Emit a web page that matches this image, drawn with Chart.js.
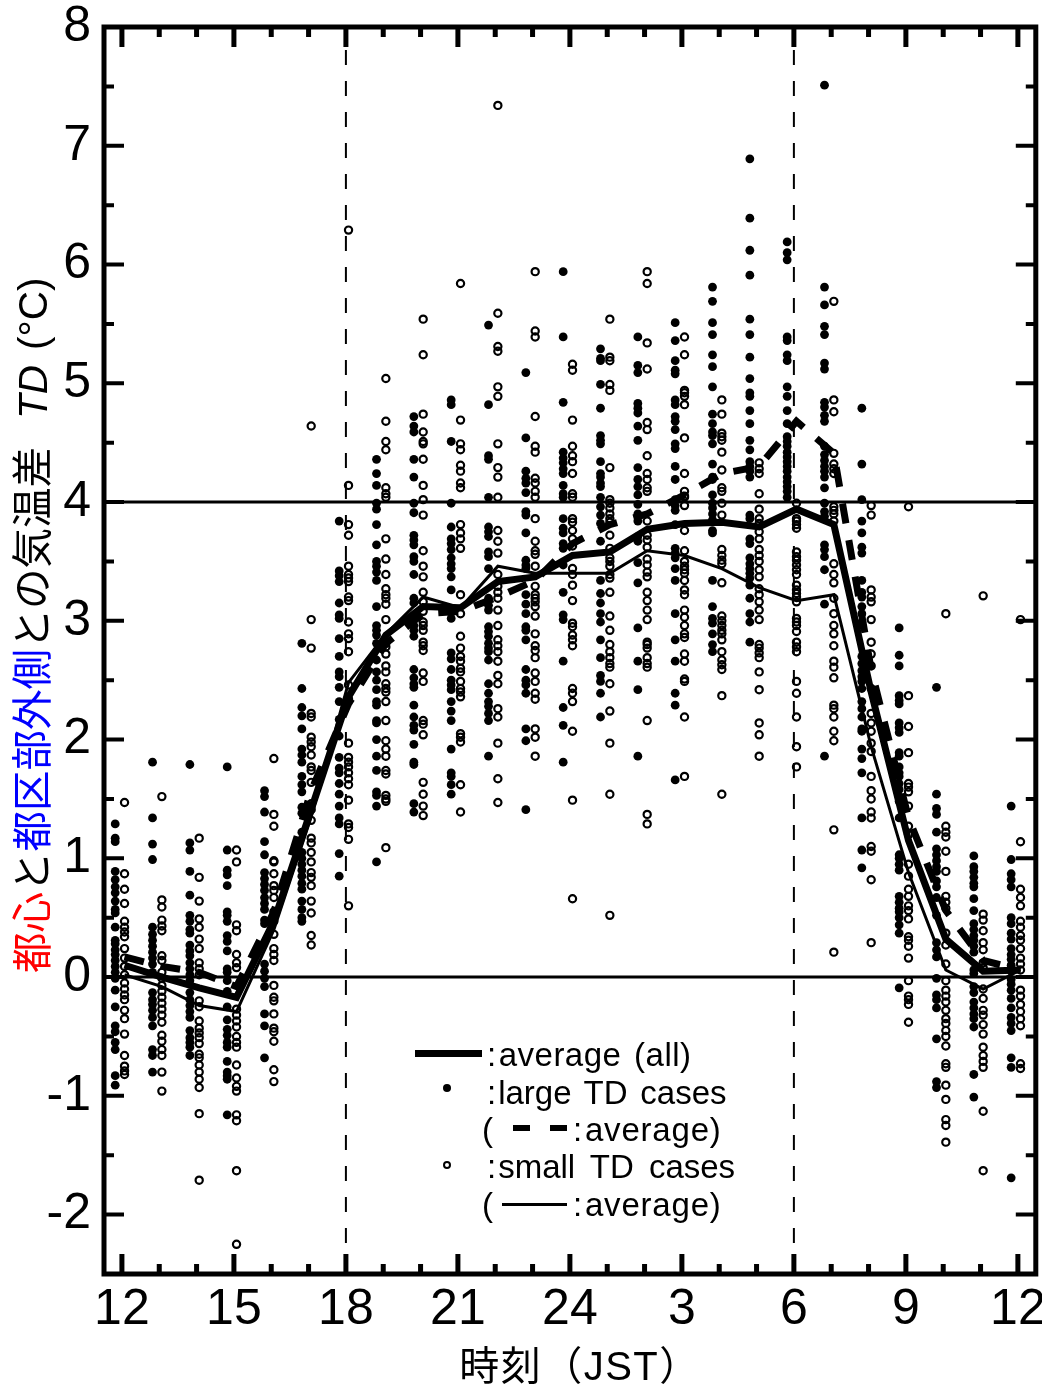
<!DOCTYPE html>
<html>
<head>
<meta charset="utf-8">
<script src="https://cdn.jsdelivr.net/npm/chart.js@4"></script>
<style>
  html, body { margin:0; padding:0; background:#fff; }
  #wrap { position:relative; width:1042px; height:1387px; overflow:hidden; font-family:"Liberation Sans", sans-serif; color:#000; }
  #yTitle { position:absolute; left:33px; top:973px; transform-origin:0 0; transform:rotate(-90deg) translateY(-50%); white-space:nowrap; font-size:40.5px; line-height:44px; font-family:"Liberation Sans","Noto Sans CJK JP",sans-serif; }
  #yTitle i { margin-left:28px; }
  #yTitle b { font-weight:normal; margin-left:15px; }
  #xTitle { position:absolute; left:380px; width:400px; top:1344px; text-align:center; white-space:nowrap; font-size:40px; line-height:44px; letter-spacing:1.5px; font-family:"Liberation Sans","Noto Sans CJK JP",sans-serif; }
  .lg { position:absolute; font-size:33px; line-height:38px; white-space:pre; }
  .lg span { margin-right:2px; }
  .mk { position:absolute; background:#000; }
  .dot { position:absolute; border-radius:50%; box-sizing:border-box; }
</style>
</head>
<body>
<div id="wrap">
  <canvas id="tdChart" width="1042" height="1387"></canvas>
  <div id="yTitle"><span style="color:#f00">都心</span>と<span style="color:#00f">都区部外側</span>との気温差<i>TD</i><b>(°C)</b></div>
  <div id="xTitle">時刻（JST）</div>

  <div class="mk" style="left:415px;top:1050px;width:67px;height:7px"></div>
  <div class="lg" style="left:487px;top:1036px;letter-spacing:.5px;word-spacing:3px"><span>:</span>average (all)</div>
  <div class="dot" style="left:443px;top:1084px;width:8px;height:8px;background:#000"></div>
  <div class="lg" style="left:487px;top:1074px;word-spacing:3.5px"><span>:</span>large TD cases</div>
  <div class="lg" style="left:482px;top:1111px">(</div>
  <div class="mk" style="left:513px;top:1125px;width:17px;height:6px"></div>
  <div class="mk" style="left:550px;top:1125px;width:17px;height:6px"></div>
  <div class="lg" style="left:573px;top:1111px;letter-spacing:.8px"><span>:</span>average)</div>
  <div class="dot" style="left:443px;top:1161px;width:8px;height:8px;border:2px solid #000"></div>
  <div class="lg" style="left:487px;top:1148px;word-spacing:6px"><span>:</span>small TD cases</div>
  <div class="lg" style="left:482px;top:1186px">(</div>
  <div class="mk" style="left:502px;top:1203px;width:65px;height:3px"></div>
  <div class="lg" style="left:573px;top:1186px;letter-spacing:.8px"><span>:</span>average)</div>
</div>

<script>
// hour labels, index 0 = 12 JST ... index 24 = 12 JST next day
const tickIndex = [0,3,6,9,12,15,18,21,24];
const tickLabels = ["12","15","18","21","24","3","6","9","12"];
const yLabels = [-2,-1,0,1,2,3,4,5,6,7,8];
const yMinor = [-2.5,-1.5,-0.5,0.5,1.5,2.5,3.5,4.5,5.5,6.5,7.5];
const dashedHours = [6,18];
const refLevels = [0,4];

// mean lines, one value per hour
const avgAll   = [0.10,0.00,-0.09,-0.17,0.47,1.41,2.36,2.88,3.12,3.11,3.33,3.37,3.55,3.58,3.77,3.82,3.83,3.79,3.94,3.81,2.40,1.15,0.32,0.05,0.06];
const avgLarge = [0.17,0.09,0.04,-0.08,0.55,1.57,2.30,2.81,3.06,3.08,3.20,3.34,3.65,3.81,3.90,4.06,4.24,4.30,4.68,4.41,2.59,1.34,0.56,0.14,0.06];
const avgSmall = [0.02,-0.08,-0.24,-0.29,0.40,1.35,2.48,2.89,3.20,3.11,3.46,3.40,3.40,3.40,3.59,3.55,3.44,3.28,3.17,3.22,1.94,0.88,0.06,-0.10,0.06];

// individual cases per hour, large TD days
const largeCases = [
  [1.29,1.17,1.14,0.89,0.82,0.76,0.71,0.64,0.57,0.54,0.42,0.31,0.28,0.23,0.19,0.14,0.09,0.04,-0.01,-0.11,-0.25,-0.41,-0.46,-0.55,-0.61,-0.83,-0.91],
  [1.81,1.34,1.12,0.99,0.42,0.36,0.31,0.26,0.21,0.16,0.11,0.04,-0.13,-0.19,-0.23,-0.28,-0.34,-0.41,-0.61,-0.66,-0.80],
  [1.79,1.13,1.07,0.89,0.69,0.52,0.47,0.40,0.37,0.27,0.22,0.18,0.12,0.07,0.02,-0.03,-0.13,-0.19,-0.24,-0.29,-0.34,-0.45,-0.51,-0.55,-0.59,-0.66],
  [1.77,1.07,0.90,0.86,0.77,0.55,0.52,0.47,0.35,0.30,0.22,0.07,0.04,-0.03,-0.12,-0.25,-0.36,-0.44,-0.49,-0.55,-0.59,-0.71,-0.80,-0.83,-0.86,-1.16],
  [1.57,1.52,1.39,1.14,1.03,0.88,0.83,0.78,0.73,0.67,0.62,0.57,0.48,0.45,0.11,0.05,-0.01,-0.08,-0.31,-0.41,-0.68],
  [2.81,2.43,2.27,2.20,2.09,1.92,1.87,1.81,1.69,1.62,1.56,1.43,1.38,1.22,1.05,1.00,0.95,0.90,0.85,0.79,0.74,0.64,0.57,0.50,0.47],
  [3.84,3.42,3.38,3.33,3.15,3.05,3.02,2.85,2.70,2.57,2.53,2.44,2.32,2.17,2.03,1.85,1.76,1.72,1.63,1.54,1.44,1.34,1.29,1.04,0.85],
  [4.36,4.24,4.14,3.99,3.94,3.81,3.64,3.50,3.46,3.41,3.34,3.12,2.96,2.92,2.88,2.81,2.67,2.57,2.50,2.42,2.32,2.29,2.16,2.14,2.00,1.86,1.74,1.56,1.53,1.44,0.97],
  [4.72,4.64,4.59,4.36,4.21,3.99,3.91,3.72,3.68,3.64,3.54,3.50,3.39,3.19,3.15,2.96,2.92,2.87,2.59,2.52,2.47,2.44,2.29,2.19,2.12,2.08,1.96,1.81,1.79,1.46,1.39],
  [4.86,4.82,4.51,3.99,3.79,3.69,3.65,3.60,3.53,3.48,3.44,3.37,3.26,3.02,2.73,2.68,2.59,2.50,2.46,2.42,2.32,2.24,2.16,1.92,1.72,1.69,1.62,1.54],
  [5.49,4.82,4.39,4.36,4.04,3.79,3.75,3.71,3.58,3.54,3.44,3.19,3.13,3.09,2.95,2.91,2.87,2.81,2.77,2.74,2.67,2.47,2.39,2.32,2.28,2.22,2.16,1.86],
  [5.09,4.54,4.26,4.20,4.16,4.08,3.92,3.89,3.74,3.51,3.47,3.44,3.22,3.14,3.06,2.95,2.92,2.84,2.59,2.50,2.46,2.39,2.09,1.99,1.41],
  [5.94,5.39,4.84,4.42,4.37,4.33,4.28,4.24,4.14,4.07,4.04,3.86,3.78,3.74,3.65,3.61,3.47,3.24,3.05,3.01,2.66,2.27,2.12,1.81],
  [5.29,5.21,5.19,4.99,4.79,4.56,4.52,4.49,4.34,4.24,4.21,4.16,4.13,4.04,3.96,3.89,3.82,3.67,3.34,3.23,3.15,3.06,2.99,2.84,2.69,2.54,2.49,2.39,2.19],
  [5.39,5.15,5.09,4.83,4.79,4.75,4.64,4.52,4.29,4.19,4.13,4.06,3.98,3.90,3.84,3.71,3.67,3.49,3.32,2.94,2.66,2.42,1.86],
  [5.51,5.36,5.19,5.11,5.08,4.86,4.82,4.72,4.68,4.61,4.49,4.45,4.30,4.19,4.02,3.97,3.93,3.81,3.61,3.57,3.53,3.44,3.34,3.06,2.84,2.66,2.39,2.29,1.66],
  [5.81,5.69,5.51,5.41,5.24,5.14,4.97,4.74,4.66,4.59,4.56,4.49,4.32,4.21,4.19,4.06,3.99,3.95,3.90,3.85,3.76,3.74,3.34,3.12,3.02,2.98,2.89,2.80,2.74],
  [6.89,6.39,6.12,5.91,5.54,5.41,5.22,5.04,4.92,4.89,4.77,4.66,4.52,4.44,4.34,4.30,4.26,4.21,3.89,3.86,3.69,3.65,3.53,3.48,3.44,3.40,3.36,3.30,3.19,3.06,2.99,2.82],
  [6.19,6.10,6.04,5.39,5.36,5.24,5.19,4.97,4.89,4.77,4.66,4.55,4.51,4.47,4.42,4.38,4.34,4.30,4.26,4.21,4.17,4.13,4.09,4.04],
  [7.51,5.81,5.66,5.48,5.41,5.17,5.12,4.84,4.80,4.73,4.68,4.47,4.40,4.35,4.30,4.26,4.21,4.12,3.99,3.92,3.88,3.64,3.60,3.54,3.43,3.14,1.86],
  [4.79,4.32,4.02,3.84,3.74,3.62,3.57,3.34,3.24,3.20,3.12,3.06,2.99,2.96,2.70,2.64,2.58,2.53,2.49,2.43,2.32,2.26,2.19,2.09,2.07,1.92,1.84,1.72,1.34,1.07,0.92],
  [2.94,2.71,2.62,2.37,2.33,2.30,2.14,2.10,2.06,1.89,1.86,1.77,1.72,1.69,1.63,1.58,1.52,1.48,1.34,1.03,1.00,0.95,0.90,0.68,0.63,0.58,0.55,0.50,0.44,0.37,-0.09],
  [2.44,1.54,1.42,1.37,1.22,1.08,1.03,0.98,0.93,0.89,0.81,0.76,0.67,0.52,0.29,0.23,0.17,-0.01,-0.15,-0.19,-0.26,-0.52,-0.88,-0.93],
  [1.02,0.93,0.89,0.84,0.79,0.76,0.66,0.56,0.45,0.40,0.35,0.31,0.26,0.21,0.06,0.03,-0.08,-0.13,-0.21,-0.26,-0.31,-0.35,-0.42,-0.82,-1.01],
  [1.44,0.99,0.87,0.82,0.76,0.50,0.45,0.37,0.32,0.24,0.19,0.15,0.10,0.05,-0.02,-0.06,-0.11,-0.18,-0.26,-0.34,-0.39,-0.45,-0.68,-0.76,-1.69]
];

// individual cases per hour, small TD days
const smallCases = [
  [1.47,0.87,0.74,0.62,0.47,0.42,0.38,0.34,0.24,0.16,0.09,0.02,-0.05,-0.10,-0.15,-0.19,-0.28,-0.35,-0.48,-0.66,-0.75,-0.79,-0.82],
  [1.52,0.65,0.59,0.48,0.43,0.39,0.18,0.14,0.04,-0.01,-0.07,-0.12,-0.17,-0.22,-0.27,-0.32,-0.38,-0.49,-0.54,-0.61,-0.66,-0.80,-0.96],
  [1.17,0.84,0.64,0.49,0.42,0.32,0.24,0.12,0.07,0.02,-0.20,-0.25,-0.37,-0.43,-0.47,-0.51,-0.56,-0.65,-0.68,-0.74,-0.80,-0.86,-0.93,-1.15,-1.71],
  [1.07,0.97,0.44,0.39,0.19,0.12,0.08,-0.27,-0.32,-0.37,-0.42,-0.50,-0.55,-0.59,-0.74,-0.85,-0.92,-0.96,-1.16,-1.21,-1.63,-2.25],
  [1.84,1.37,1.27,0.98,0.97,0.87,0.77,0.73,0.67,0.55,0.47,0.36,0.24,0.19,0.14,-0.07,-0.17,-0.20,-0.31,-0.43,-0.46,-0.54,-0.78,-0.88],
  [4.64,3.01,2.77,2.22,2.19,2.02,1.98,1.94,1.87,1.77,1.74,1.64,1.46,1.41,1.32,1.17,1.13,1.05,0.97,0.88,0.84,0.77,0.64,0.54,0.35,0.27],
  [6.29,4.14,3.81,3.72,3.46,3.39,3.36,3.33,3.20,3.17,2.99,2.89,2.85,2.74,2.46,2.34,1.97,1.85,1.81,1.77,1.72,1.67,1.62,1.49,1.29,1.26,1.16,0.60],
  [5.04,4.68,4.51,4.44,4.12,4.07,4.04,3.69,3.52,3.39,3.27,3.22,3.19,3.14,3.01,2.81,2.78,2.72,2.62,2.57,2.47,2.43,2.40,2.32,2.16,1.99,1.92,1.86,1.74,1.71,1.53,1.50,1.48,1.09],
  [5.54,5.24,4.74,4.59,4.51,4.49,4.36,4.14,4.02,3.89,3.59,3.46,3.37,3.24,3.16,3.08,2.99,2.96,2.92,2.82,2.79,2.75,2.56,2.49,2.16,2.13,2.04,1.64,1.54,1.44,1.36],
  [5.84,4.69,4.49,4.44,4.31,4.26,4.16,4.12,3.81,3.74,3.69,3.61,3.22,3.06,2.87,2.77,2.70,2.66,2.60,2.57,2.49,2.43,2.40,2.36,2.05,2.02,1.98,1.62,1.39],
  [7.34,5.59,5.31,5.27,4.97,4.89,4.49,4.29,4.21,4.04,3.76,3.67,3.57,3.39,3.29,3.24,3.19,3.09,2.96,2.84,2.79,2.74,2.66,2.54,2.47,2.26,2.19,1.97,1.67,1.47],
  [5.94,5.44,5.39,4.72,4.47,4.42,4.20,4.16,4.09,4.04,3.86,3.67,3.59,3.56,3.46,3.29,3.22,3.19,3.16,3.12,3.04,2.89,2.79,2.75,2.69,2.56,2.49,2.39,2.34,2.09,2.02,1.86],
  [5.16,5.11,4.69,4.47,4.39,4.34,4.24,4.07,4.04,3.86,3.83,3.76,3.69,3.63,3.44,3.39,3.30,3.17,2.98,2.95,2.88,2.84,2.79,2.43,2.39,2.32,2.07,1.49,0.66],
  [5.54,5.22,5.19,4.99,4.94,4.29,4.02,3.99,3.95,3.90,3.86,3.83,3.72,3.61,3.53,3.50,3.46,3.39,3.36,3.24,3.04,2.92,2.80,2.74,2.69,2.64,2.61,2.47,2.24,1.97,1.54,0.52],
  [5.94,5.84,5.34,5.12,4.67,4.61,4.39,4.24,4.19,4.12,4.09,3.84,3.72,3.68,3.62,3.52,3.47,3.41,3.37,3.24,3.17,3.09,3.01,2.82,2.80,2.77,2.69,2.64,2.61,2.16,1.37,1.29],
  [5.39,5.24,4.94,4.92,4.89,4.82,4.54,4.24,4.09,4.05,4.04,3.97,3.76,3.59,3.50,3.46,3.43,3.40,3.34,3.26,3.22,3.09,3.03,2.96,2.89,2.86,2.72,2.66,2.51,2.49,2.19,1.69],
  [4.86,4.74,4.58,4.55,4.52,4.42,4.27,4.12,4.09,3.99,3.89,3.60,3.55,3.51,3.48,3.32,3.04,3.00,2.96,2.92,2.89,2.84,2.74,2.67,2.63,2.59,2.37,1.54],
  [4.33,4.28,4.24,4.07,3.94,3.86,3.82,3.75,3.69,3.60,3.55,3.50,3.43,3.37,3.27,3.22,3.16,3.09,3.01,2.80,2.77,2.73,2.69,2.57,2.42,2.14,2.04,1.86],
  [3.99,3.86,3.84,3.81,3.78,3.58,3.54,3.51,3.47,3.43,3.39,3.30,3.26,3.23,3.20,3.16,3.02,2.99,2.96,2.91,2.82,2.78,2.74,2.49,2.39,2.19,1.94,1.77],
  [5.69,4.86,4.76,4.41,4.32,4.28,4.24,3.96,3.93,3.90,3.84,3.48,3.39,3.32,3.19,3.06,2.96,2.89,2.79,2.66,2.61,2.52,2.29,2.26,2.19,2.07,1.99,1.24,0.21],
  [3.97,3.89,3.26,3.20,3.16,3.01,2.82,2.72,2.62,2.43,2.22,2.14,2.07,1.97,1.90,1.69,1.57,1.50,1.39,1.34,1.10,1.06,0.82,0.29],
  [3.96,2.37,2.11,1.89,1.63,1.60,1.56,1.44,1.27,1.20,0.95,0.85,0.74,0.68,0.60,0.56,0.49,0.34,0.31,0.26,0.16,-0.03,-0.16,-0.19,-0.23,-0.38],
  [3.06,1.27,1.22,1.18,1.06,0.89,0.68,0.63,0.58,0.37,0.27,0.11,-0.03,-0.11,-0.16,-0.21,-0.28,-0.35,-0.39,-0.45,-0.50,-0.58,-0.73,-0.76,-0.91,-1.03,-1.20,-1.25,-1.39],
  [3.21,0.53,0.48,0.39,0.29,0.23,0.12,0.08,-0.10,-0.18,-0.28,-0.32,-0.40,-0.48,-0.59,-0.66,-0.71,-0.76,-1.13,-1.63],
  [3.01,1.14,0.74,0.67,0.60,0.47,0.42,0.35,0.31,0.24,0.16,0.11,0.06,-0.11,-0.16,-0.23,-0.29,-0.35,-0.41,-0.73,-0.77]
];

// large cases sit left of the hour, small cases and means slightly right
const LARGE_SHIFT = -0.18;
const SMALL_SHIFT = 0.07;

function toPoints(cols, shift){
  const pts = [];
  cols.forEach((col, i) => col.forEach(v => pts.push({ x: i + shift, y: v })));
  return pts;
}
function toLine(vals){
  return vals.map((v, i) => ({ x: i + SMALL_SHIFT, y: v }));
}
// keep the plot box where it is: labels may run past it
function noOverflow(s){
  s.paddingLeft = s.paddingRight = s.paddingTop = s.paddingBottom = 0;
}

const X_MIN = -0.48, X_MAX = 24.48, Y_MIN = -2.5, Y_MAX = 8;

// inward ticks on all four sides plus the frame
const frameTicks = {
  id: "frameTicks",
  afterDraw(c){
    const { ctx, chartArea: a, scales: { x, y } } = c;
    ctx.save();
    ctx.strokeStyle = "#000";
    ctx.lineCap = "butt";

    ctx.lineWidth = 4;
    const yTick = (v, len) => {
      const p = y.getPixelForValue(v);
      ctx.beginPath();
      ctx.moveTo(a.left, p); ctx.lineTo(a.left + len, p);
      ctx.moveTo(a.right, p); ctx.lineTo(a.right - len, p);
      ctx.stroke();
    };
    yLabels.forEach(v => yTick(v, 20));
    yMinor.forEach(v => yTick(v, 10));

    ctx.lineWidth = 5;
    const xTick = (i, len) => {
      const p = x.getPixelForValue(i);
      ctx.beginPath();
      ctx.moveTo(p, a.bottom); ctx.lineTo(p, a.bottom - len);
      ctx.moveTo(p, a.top); ctx.lineTo(p, a.top + len);
      ctx.stroke();
    };
    for (let i = 0; i <= 24; i++){
      xTick(i, tickIndex.includes(i) ? 20 : 10);
    }

    ctx.lineWidth = 5;
    ctx.strokeRect(a.left, a.top, a.right - a.left, a.bottom - a.top);
    ctx.restore();
  }
};

const datasets = [
  { data: toLine(avgAll), showLine: true, borderColor: "#000", borderWidth: 7, pointRadius: 0, order: 1, borderJoinStyle: "miter" },
  { data: toLine(avgLarge), showLine: true, borderColor: "#000", borderWidth: 7, borderDash: [20, 17], pointRadius: 0, order: 2, borderJoinStyle: "miter" },
  { data: toLine(avgSmall), showLine: true, borderColor: "#000", borderWidth: 3, pointRadius: 0, order: 3 },
  { data: toPoints(largeCases, LARGE_SHIFT), showLine: false, backgroundColor: "#000", borderWidth: 0, pointRadius: 4.4, order: 5 },
  { data: toPoints(smallCases, SMALL_SHIFT), showLine: false, backgroundColor: "transparent", borderColor: "#000", borderWidth: 2.2, pointRadius: 3.6, order: 5 }
];
refLevels.forEach(v => datasets.push({
  data: [{ x: X_MIN, y: v }, { x: X_MAX, y: v }], showLine: true, borderColor: "#000", borderWidth: 3, pointRadius: 0, order: 6
}));
dashedHours.forEach(h => datasets.push({
  data: [{ x: h, y: Y_MIN }, { x: h, y: Y_MAX }], showLine: true, borderColor: "#000", borderWidth: 2, borderDash: [15, 16], pointRadius: 0, order: 6
}));

new Chart(document.getElementById("tdChart"), {
  type: "scatter",
  data: { datasets },
  options: {
    responsive: false,
    animation: false,
    layout: { padding: { top: 27, right: -1.4, left: 0, bottom: 0 } },
    plugins: { legend: { display: false }, tooltip: { enabled: false } },
    scales: {
      x: {
        type: "linear", min: X_MIN, max: X_MAX,
        grid: { display: false, drawTicks: false },
        border: { display: false },
        afterFit: s => { s.height = 113; noOverflow(s); },
        afterBuildTicks: s => { s.ticks = tickIndex.map(v => ({ value: v })); },
        ticks: {
          autoSkip: false, maxRotation: 0, padding: 6, color: "#000",
          font: { family: "Liberation Sans", size: 50 },
          callback: v => tickLabels[tickIndex.indexOf(v)]
        }
      },
      y: {
        type: "linear", min: Y_MIN, max: Y_MAX,
        grid: { display: false, drawTicks: false },
        border: { display: false },
        afterFit: s => { s.width = 104; noOverflow(s); },
        afterBuildTicks: s => { s.ticks = yLabels.map(v => ({ value: v })); },
        ticks: {
          autoSkip: false, padding: 13, color: "#000",
          font: { family: "Liberation Sans", size: 50 },
          callback: v => String(v)
        }
      }
    }
  },
  plugins: [frameTicks]
});
</script>
</body>
</html>
